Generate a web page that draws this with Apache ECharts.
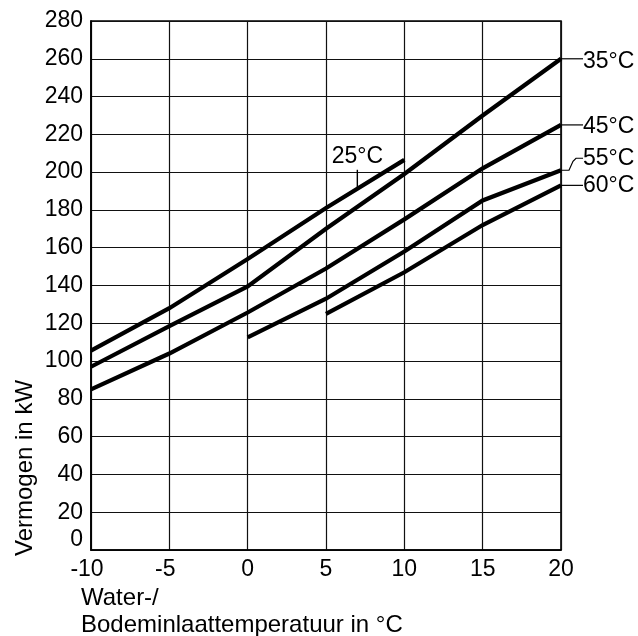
<!DOCTYPE html>
<html>
<head>
<meta charset="utf-8">
<script src="https://cdn.jsdelivr.net/npm/echarts@6/dist/echarts.min.js"></script>
<style>
  html, body { margin: 0; padding: 0; background: #fff; }
  #chart { width: 638px; height: 636px; }
</style>
</head>
<body>
<div id="chart"></div>
<script>
// Water / brine inlet temperature (°C), sampled every 5 degrees
const temps = [-10, -5, 0, 5, 10, 15, 20];
// Heating capacity (kW) for each flow temperature; null = outside operating range
const cap25 = [105.5, 128, 154, 181, 206.5, null, null];
const cap35 = [97, 118.5, 139.5, 170, 199, 230, 260];
const cap45 = [85, 104, 125.7, 149, 175, 202, 225];
const cap55 = [null, null, 112.5, 133, 158, 185, 201];
const cap60 = [null, null, null, 125, 147, 172, 193];
const curveNames = ['25°C', '35°C', '45°C', '55°C', '60°C'];
// Axis tick values
const xTicks = [-10, -5, 0, 5, 10, 15, 20];
const yTicks = [0, 20, 40, 60, 80, 100, 120, 140, 160, 180, 200, 220, 240, 260, 280];
// Inlet temperature where the 25°C curve carries its label
const label25At = 7;

const FONT = "'Liberation Sans', Arial, Helvetica, sans-serif";
const FS = 23;
const NAME_FS = 24;

const toPairs = vals => temps.map((t, i) => [t, vals[i]]).filter(p => p[1] != null);
const lastPair = vals => { const p = toPairs(vals); return p[p.length - 1]; };
// Position on a curve between its sampled temperatures
function valueAt(vals, x) {
  const p = toPairs(vals);
  for (let i = 0; i < p.length - 1; i++) {
    if (x >= p[i][0] && x <= p[i + 1][0]) {
      const f = (x - p[i][0]) / (p[i + 1][0] - p[i][0]);
      return p[i][1] + f * (p[i + 1][1] - p[i][1]);
    }
  }
  return p[p.length - 1][1];
}

const textStyle = { fontSize: FS, fontFamily: FONT, color: '#000' };

function curve(name, vals, labelDy) {
  const s = {
    name: name,
    type: 'line',
    data: toPairs(vals),
    symbol: 'none',
    silent: true,
    animation: false,
    clip: false,
    lineStyle: { color: '#000', width: 4.2, cap: 'butt', join: 'miter' }
  };
  if (labelDy !== null) {
    s.endLabel = Object.assign({
      show: true,
      formatter: name,
      distance: 22,
      offset: [0, labelDy]
    }, textStyle);
  }
  return s;
}

const series = [
  curve(curveNames[0], cap25, null),
  curve(curveNames[1], cap35, 3),
  curve(curveNames[2], cap45, 2),
  curve(curveNames[3], cap55, -12),
  curve(curveNames[4], cap60, 0)
];

// 25°C curve: label on a short vertical tick above the line
series[0].markPoint = {
  silent: true,
  animation: false,
  symbol: 'rect',
  symbolSize: [1.4, 19],
  symbolOffset: [0, -9.5],
  itemStyle: { color: '#000' },
  label: Object.assign({ show: true, position: 'top', distance: 2, formatter: curveNames[0] }, textStyle),
  data: [{ coord: [label25At, valueAt(cap25, label25At)] }]
};

const chart = echarts.init(document.getElementById('chart'), null, { renderer: 'canvas' });

chart.setOption({
  animation: false,
  backgroundColor: '#fff',
  grid: {
    left: 91, right: 77, top: 21, bottom: 86,
    show: true, borderColor: '#000', borderWidth: 1.6, backgroundColor: 'transparent'
  },
  xAxis: {
    type: 'value',
    min: xTicks[0], max: xTicks[xTicks.length - 1], interval: xTicks[1] - xTicks[0],
    axisLine: { show: true, onZero: false, lineStyle: { color: '#000', width: 1.6 } },
    axisTick: { show: false },
    splitLine: { show: true, lineStyle: { color: '#111', width: 1.2 } },
    axisLabel: {
      margin: 8,
      fontSize: FS, fontFamily: FONT, color: '#000',
      formatter: v => v < 0 ? '{n|' + v + '}' : String(v),
      rich: { n: { fontSize: FS, fontFamily: FONT, color: '#000', padding: [0, 8, 0, 0] } }
    }
  },
  yAxis: {
    type: 'value',
    min: yTicks[0], max: yTicks[yTicks.length - 1], interval: yTicks[1] - yTicks[0],
    axisLine: { show: true, onZero: false, lineStyle: { color: '#000', width: 1.6 } },
    axisTick: { show: false },
    splitLine: { show: true, lineStyle: { color: '#111', width: 1.2 } },
    axisLabel: {
      margin: 8,
      fontSize: FS, fontFamily: FONT, color: '#000',
      formatter: v => v === yTicks[0] ? '{z|' + v + '}' : String(v),
      rich: { z: { fontSize: FS, fontFamily: FONT, color: '#000', padding: [0, 0, 21, 0] } }
    }
  },
  series: series
});

// Leader lines from the curve ends to their labels
const leaders = [
  [cap35, [[0, 0], [22, 0]]],
  [cap45, [[0, 0], [22, 0]]],
  [cap55, [[0, 0], [8, 0], [12, -9], [15, -12], [22, -12]]],
  [cap60, [[0, 0], [22, 0]]]
];

const graphics = leaders.map(([vals, pts]) => {
  const p = chart.convertToPixel({ xAxisIndex: 0, yAxisIndex: 0 }, lastPair(vals));
  return {
    type: 'polyline',
    silent: true,
    shape: { points: pts.map(q => [p[0] + q[0], p[1] + q[1]]) },
    style: { stroke: '#000', lineWidth: 1.2, fill: null }
  };
});

// Axis titles
graphics.push({
  type: 'text', x: 25, y: 468, rotation: Math.PI / 2, silent: true,
  style: { text: 'Vermogen in kW', font: NAME_FS + 'px ' + FONT, fill: '#000', align: 'center', verticalAlign: 'middle' }
});
graphics.push({
  type: 'text', x: 81, y: 585, silent: true,
  style: { text: 'Water-/\nBodeminlaattemperatuur in °C', font: NAME_FS + 'px ' + FONT, fill: '#000', align: 'left', verticalAlign: 'top', lineHeight: 27 }
});

chart.setOption({ graphic: { elements: graphics } });
</script>
</body>
</html>
